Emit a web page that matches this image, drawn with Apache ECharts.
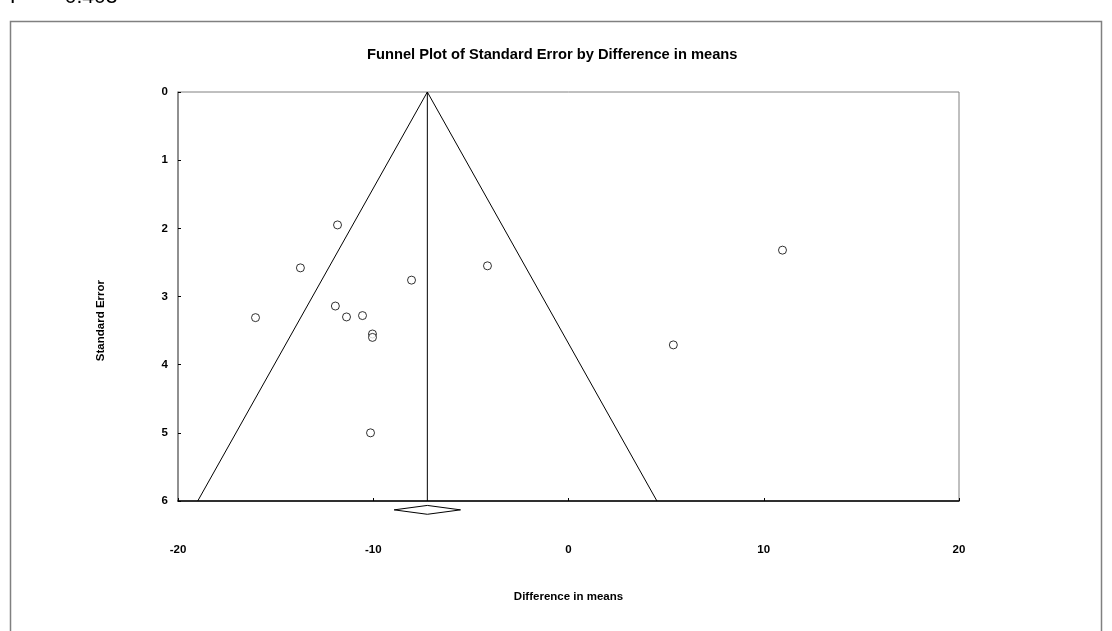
<!DOCTYPE html>
<html>
<head>
<meta charset="utf-8">
<script src="https://cdn.jsdelivr.net/npm/echarts@6/dist/echarts.min.js"></script>
<style>
  html, body { margin: 0; padding: 0; background: #fff; }
  #funnel { width: 1112px; height: 631px; }
</style>
</head>
<body>
<div id="funnel"></div>
<script>
// study data: difference in means, standard error
var diffMeans = [-11.83, -13.73, -16.03, -11.94, -11.37, -10.55, -10.04, -10.04, -8.04, -10.14, -4.15, 5.37, 10.96];
var stdErrors = [1.95, 2.58, 3.31, 3.14, 3.30, 3.28, 3.55, 3.60, 2.76, 5.00, 2.55, 3.71, 2.32];

// pooled estimate and its confidence interval
var pooledMean = -7.23;
var ciLow = -8.93;
var ciHigh = -5.53;

var xTicks = [-20, -10, 0, 10, 20];
var yTicks = [0, 1, 2, 3, 4, 5, 6];
var seMax = 6;

var points = diffMeans.map(function (d, i) { return [d, stdErrors[i]]; });

// 95% funnel limits
var funnelLines = [
    [pooledMean - 1.96 * seMax, seMax],
    [pooledMean, 0],
    [pooledMean + 1.96 * seMax, seMax]
];
var meanLine = [[pooledMean, 0], [pooledMean, seMax]];

// diamond sits just under the x axis
var dY = seMax + 0.13, dH = 0.065;
var diamond = [
    [ciLow, dY], [pooledMean, dY - dH], [ciHigh, dY], [pooledMean, dY + dH], [ciLow, dY]
];

var font = '"Liberation Sans", Arial, sans-serif';
var chart = echarts.init(document.getElementById('funnel'));

var option = {
    animation: false,
    backgroundColor: '#fff',
    title: {
        text: 'Funnel Plot of Standard Error by Difference in means',
        left: 362,
        top: 42,
        textStyle: { fontFamily: font, fontSize: 14.7, fontWeight: 'bold', color: '#000' }
    },
    grid: {
        left: 178, right: 153, top: 92, bottom: 130,
        show: true, borderColor: '#808080', borderWidth: 1
    },
    xAxis: {
        type: 'value',
        min: xTicks[0], max: xTicks[xTicks.length - 1], interval: 10,
        name: 'Difference in means',
        nameLocation: 'middle',
        nameGap: 90,
        nameTextStyle: { fontFamily: font, fontSize: 11.5, fontWeight: 'bold', color: '#000' },
        axisLine: { onZero: false, lineStyle: { color: '#000', width: 1.5 } },
        axisTick: { show: true, length: 3, inside: true, lineStyle: { color: '#000' } },
        axisLabel: { margin: 43, fontFamily: font, fontSize: 11.5, fontWeight: 'bold', color: '#000' },
        splitLine: { show: false }
    },
    yAxis: {
        type: 'value',
        inverse: true,
        min: yTicks[0], max: yTicks[yTicks.length - 1], interval: 1,
        axisLine: { show: true, onZero: false, lineStyle: { color: '#808080', width: 1.5 } },
        axisTick: { show: true, length: 3, inside: true, lineStyle: { color: '#000' } },
        axisLabel: { margin: 10, fontFamily: font, fontSize: 11.5, fontWeight: 'bold', color: '#000' },
        splitLine: { show: false }
    },
    graphic: [
        {
            type: 'rect',
            shape: { x: 10.5, y: 21.5, width: 1091, height: 640 },
            style: { fill: null, stroke: '#808080', lineWidth: 1.5 },
            silent: true
        },
        {
            type: 'text',
            left: 95, top: 280,
            rotation: Math.PI / 2,
            style: {
                text: 'Standard Error', fill: '#000',
                font: 'bold 11.5px ' + font,
                align: 'center', verticalAlign: 'middle'
            }
        },
        {
            type: 'text',
            x: 10, y: -13,
            style: { text: 'P       0.403', fill: '#000', font: '21px ' + font }
        }
    ],
    series: [
        {
            type: 'line',
            data: funnelLines,
            symbol: 'none',
            lineStyle: { color: '#000', width: 1 },
            silent: true
        },
        {
            type: 'line',
            data: meanLine,
            symbol: 'none',
            lineStyle: { color: '#000', width: 1 },
            silent: true
        },
        {
            type: 'line',
            data: diamond,
            symbol: 'none',
            clip: false,
            lineStyle: { color: '#000', width: 1 },
            silent: true
        },
        {
            type: 'scatter',
            data: points,
            symbol: 'circle',
            symbolSize: 8,
            itemStyle: { color: '#fff', borderColor: '#000', borderWidth: 1 },
            z: 5
        }
    ]
};

chart.setOption(option);
</script>
</body>
</html>
